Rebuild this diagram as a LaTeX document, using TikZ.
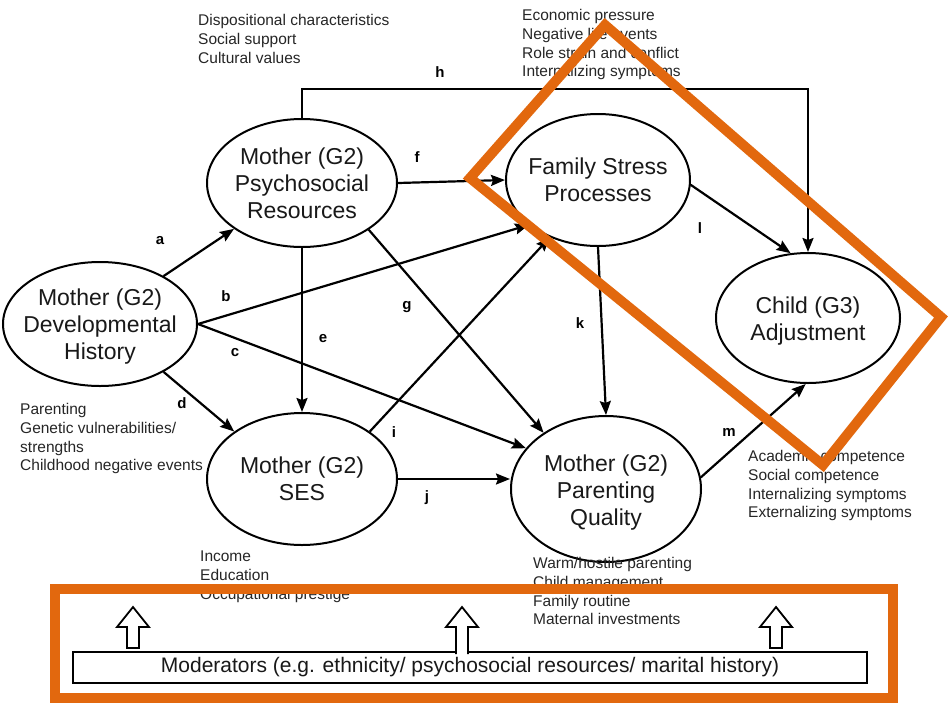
\documentclass[tikz,border=0pt]{standalone}
\usepackage{fontspec}
\setmainfont{Liberation Sans}
\usetikzlibrary{arrows.meta,shapes.geometric}
\definecolor{hl}{RGB}{226,104,14}
\begin{document}
\begin{tikzpicture}[x=1pt,y=-1pt,
  ell/.style={draw, ellipse, line width=2pt, inner sep=0pt},
  etext/.style={align=center, font=\fontsize{23}{27}\selectfont, inner sep=0pt, text=black!90},
  note/.style={anchor=north west, align=left, font=\fontsize{15.5}{18.8}\selectfont, inner sep=0pt, text=black!85},
  lab/.style={font=\fontsize{15}{15}\selectfont\bfseries, inner sep=0pt},
  conn/.style={line width=2.2pt, -{Stealth[length=14pt,width=11pt,inset=2pt]}},
  hollow/.style={draw, line width=1.8pt, fill=white, line join=miter},
  hlline/.style={draw=hl, line width=10pt},
]
\useasboundingbox (0,0) rectangle (948,705);
\fill[white] (0,0) rectangle (948,705);

% ellipses
\node[ell, minimum width=194, minimum height=124] (dev) at (100,324) {};
\node[etext] (devt) at ([yshift=-3pt]dev.center) {Mother (G2)\\Developmental\\History};
\node[ell, minimum width=190, minimum height=128] (psych) at (302,183) {};
\node[etext] (psycht) at (psych.center) {Mother (G2)\\Psychosocial\\Resources};
\node[ell, minimum width=184, minimum height=132] (fam) at (598,180) {};
\node[etext] (famt) at (fam.center) {Family Stress\\Processes};
\node[ell, minimum width=184, minimum height=130] (child) at (808,318) {};
\node[etext] (childt) at ([yshift=-3pt]child.center) {Child (G3)\\Adjustment};
\node[ell, minimum width=190, minimum height=132] (ses) at (302,479) {};
\node[etext] (sest) at (ses.center) {Mother (G2)\\SES};
\node[ell, minimum width=190, minimum height=146] (par) at (606,489) {};
\node[etext] (part) at ([yshift=-4pt]par.center) {Mother (G2)\\Parenting\\Quality};

% connectors
\draw[conn] (dev.37) -- (psych.214);
\draw[conn] (dev.east) -- (fam.213);
\draw[conn] (dev.east) -- (par.153);
\draw[conn] (dev.-37) -- (ses.145);
\draw[conn] (psych.south) -- (ses.north);
\draw[conn] (psych.east) -- (fam.west);
\draw[conn] (psych.-35) -- (par.138);
\draw[conn] (psych.north) -- ++(0,-29) -| (child.north);
\draw[conn] (ses.35) -- (fam.230);
\draw[conn] (ses.east) -- (par.west |- ses.east);
\draw[conn] (fam.south) -- (par.north);
\draw[conn] (fam.-3) -- (child.105);
\draw[conn] (par.7) -- (child.268);

% labels
\node[lab] (la) at (160,241) {a};
\node[lab] (lb) at (226,296) {b};
\node[lab] (lc) at (235,353) {c};
\node[lab] (ld) at (182,403) {d};
\node[lab] (le) at (323,339) {e};
\node[lab] (lf) at (417,157) {f};
\node[lab] (lg) at (407,307) {g};
\node[lab] (lh) at (440,72) {h};
\node[lab] (li) at (394,432) {i};
\node[lab] (lj) at (427,498) {j};
\node[lab] (lk) at (580,323) {k};
\node[lab] (ll) at (700,228) {l};
\node[lab] (lm) at (729,432) {m};

% notes
\node[note] (n1) at (198,14) {Dispositional characteristics\\Social support\\Cultural values};
\node[note] (n2) at (522,9) {Economic pressure\\Negative life events\\Role strain and conflict\\Internalizing symptoms};
\node[note] (n3) at (20,403) {Parenting\\Genetic vulnerabilities/\\strengths\\Childhood negative events};
\node[note] (n4) at (200,551) {Income\\Education\\Occupational prestige};
\node[note] (n5) at (533,557) {Warm/hostile parenting\\Child management\\Family routine\\Maternal investments};
\node[note] (n6) at (748,450) {Academic competence\\Social competence\\Internalizing symptoms\\Externalizing symptoms};

% moderators
\node[draw, line width=1.8pt, minimum width=794, minimum height=31, inner sep=0pt,
      font=\fontsize{21}{21}\selectfont, text=black!90] (mod) at (470,667.5)
      {Moderators (e.g. ethnicity/ psychosocial resources/ marital history)};
\draw[hollow] (127,648) -- (127,627) -- (117,627) -- (133,607) -- (149,627) -- (139,627) -- (139,648) -- cycle;
\draw[hollow] (456,654) -- (456,627) -- (446,627) -- (462,607) -- (478,627) -- (468,627) -- (468,654);
\draw[hollow] (770,648) -- (770,627) -- (760,627) -- (776,607) -- (792,627) -- (782,627) -- (782,648) -- cycle;

% orange highlights
\draw[hlline] (55,589) rectangle (893,698);
\draw[hlline] (470,178) -- (605,25) -- (941,317) -- (823,465) -- cycle;
\end{tikzpicture}
\end{document}
